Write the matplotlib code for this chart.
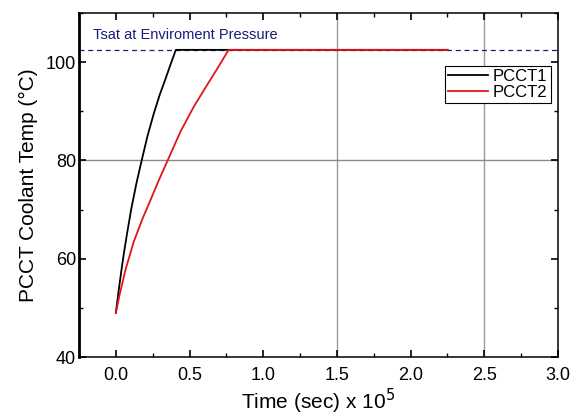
"""
plot.py: PCCT coolant temperature rise for two cases, capped at Tsat.
"""

import matplotlib
matplotlib.use("Agg")
import matplotlib.pyplot as plt
from matplotlib.ticker import MultipleLocator, FormatStrFormatter

plt.rcParams['font.family'] = ['Liberation Sans', 'DejaVu Sans']

# Time in units of 1e5 sec, temperature in deg C
t_pcct1 = [0.0, 0.020, 0.039, 0.054, 0.077, 0.105, 0.140, 0.176, 0.215,
           0.258, 0.297, 0.337, 0.372, 0.407, 2.25]
temp_pcct1 = [49.0, 53.7, 57.9, 61.0, 65.3, 70.2, 75.4, 80.1, 85.0,
              89.6, 93.3, 96.6, 99.6, 102.5, 102.5]

t_pcct2 = [0.0, 0.025, 0.066, 0.122, 0.179, 0.236, 0.292, 0.353, 0.439,
           0.530, 0.620, 0.699, 0.765, 2.25]
temp_pcct2 = [49.0, 52.6, 57.8, 63.5, 68.0, 72.0, 76.0, 80.1, 85.9,
              91.0, 95.4, 99.2, 102.5, 102.5]

tsat = 102.5

fig = plt.figure(figsize=(5.73, 4.2), dpi=100)
ax = fig.add_axes([79 / 573, 1 - 357 / 420, 479 / 573, 344 / 420])

# Saturation temperature reference line
ax.axhline(tsat, color="#1a1a8c", linestyle=(0, (4, 3)), linewidth=0.9, zorder=1)
ax.text(0.029, 0.935, "Tsat at Enviroment Pressure", transform=ax.transAxes,
        color="#1a1a7a", fontsize=10.5, ha="left", va="center")

ax.plot(t_pcct1, temp_pcct1, color="black", linewidth=1.3, label="PCCT1", zorder=3)
ax.plot(t_pcct2, temp_pcct2, color="#e0151b", linewidth=1.3, label="PCCT2", zorder=4)

ax.set_xlim(-0.25, 3.0)
ax.set_ylim(40, 110)
ax.xaxis.set_major_locator(MultipleLocator(0.5))
ax.xaxis.set_minor_locator(MultipleLocator(0.25))
ax.yaxis.set_major_locator(MultipleLocator(20))
ax.yaxis.set_minor_locator(MultipleLocator(10))
ax.xaxis.set_major_formatter(FormatStrFormatter("%.1f"))

ax.tick_params(which="both", direction="in", top=True, right=True, labelsize=13)
ax.tick_params(which="major", length=5, width=1.2)
ax.tick_params(which="minor", length=3, width=1)
ax.tick_params(axis="x", pad=7)
ax.tick_params(axis="y", pad=2)

for side in ["top", "right", "bottom"]:
    ax.spines[side].set_linewidth(1.1)
ax.spines["left"].set_linewidth(2)

# Sparse gray grid lines
for gx in [1.5, 2.5]:
    ax.axvline(gx, color="#9a9a9a", linewidth=1, zorder=0)
ax.axhline(80, color="#8a8a8a", linewidth=1, zorder=0)

ax.set_xlabel(r"Time (sec) x 10$^{5}$", fontsize=15, labelpad=2)
ax.set_ylabel("PCCT Coolant Temp (\u00b0C)", fontsize=15, labelpad=6)

leg = ax.legend(loc="upper right", bbox_to_anchor=(0.985, 0.846), fontsize=12,
                frameon=True, fancybox=False, framealpha=1, edgecolor="black",
                handlelength=2.4, handletextpad=0.3, borderpad=0.2, labelspacing=0.05,
                borderaxespad=0)
leg.get_frame().set_linewidth(0.8)

fig.savefig("out.png", dpi=100)
